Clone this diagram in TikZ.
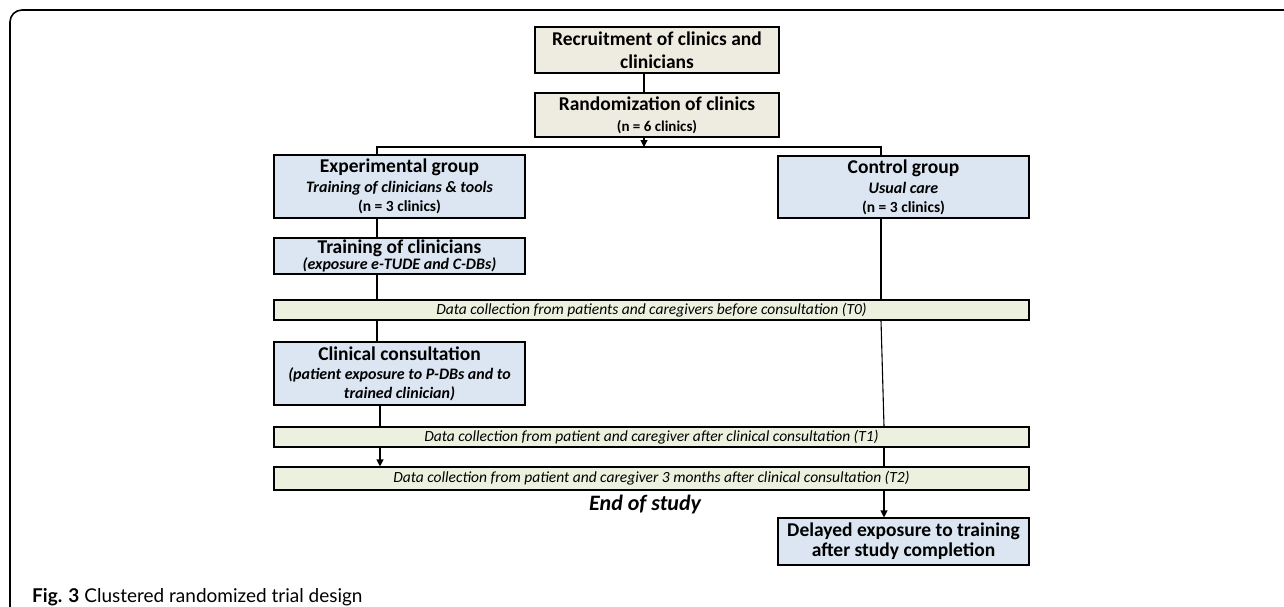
\documentclass[tikz,border=0pt]{standalone}
\usepackage{fontspec}
\setmainfont{Carlito}
\newfontfamily\capfont{Lato}
\usetikzlibrary{arrows.meta}
\definecolor{beigefill}{HTML}{EEECE1}
\definecolor{bluefill}{HTML}{DCE6F2}
\definecolor{greenfill}{HTML}{EBF1DE}
\tikzset{
  box/.style={draw=black, line width=1.1pt, inner sep=0pt, align=center, text=black},
  beigebox/.style={box, fill=beigefill},
  bluebox/.style={box, fill=bluefill},
  databar/.style={box, fill=greenfill, minimum width=755pt, minimum height=20pt,
     font=\fontsize{15.5}{18}\selectfont\itshape},
  conn/.style={line width=1.1pt},
  arr/.style={line width=1.1pt, -{Triangle[length=7pt,width=7pt]}},
  big/.style={font=\fontsize{19.5}{22}\selectfont\bfseries},
}
\newcommand{\smallbi}{\fontsize{16}{18}\selectfont\bfseries\itshape}
\newcommand{\smallb}{\fontsize{15.5}{18}\selectfont\bfseries}
\begin{document}
\begin{tikzpicture}[x=1pt,y=-1pt]
\useasboundingbox (0,0) rectangle (1284,607);
% outer frame
\draw[line width=1.6pt, rounded corners=12pt] (10,607) -- (10,10) -- (1284,10);

\node[beigebox, big, minimum width=244pt, minimum height=46pt] (rec) at (657,50)
  {Recruitment of clinics and\\[1pt]clinicians};
\node[beigebox, big, minimum width=244pt, minimum height=44pt] (rand) at (657,115)
  {Randomization of clinics\\[-1pt]{\fontsize{15}{17}\selectfont(n = 6 clinics)}};

\node[bluebox, big, minimum width=251pt, minimum height=63pt] (exp) at (399.5,186.5)
  {Experimental group\\[-2pt]{\smallbi Training of clinicians \& tools}\\[-3pt]{\smallb (n = 3 clinics)}};
\node[bluebox, big, minimum width=251pt, minimum height=62pt] (ctrl) at (903.5,187)
  {Control group\\[-2pt]{\smallbi Usual care}\\[-3pt]{\smallb (n = 3 clinics)}};

\node[bluebox, big, minimum width=251pt, minimum height=36pt] (train) at (399.5,256)
  {Training of clinicians\\[-6pt]{\smallbi (exposure e-TUDE and C-DBs)}};

\node[databar] (t0) at (651.5,310)
  {Data collection from patients and caregivers before consultation (T0)};

\node[bluebox, big, minimum width=251pt, minimum height=63pt] (clin) at (399.5,373.5)
  {Clinical consultation\\[-3pt]{\smallbi (patient exposure to P-DBs and to}\\[-3pt]{\smallbi trained clinician)}};

\node[databar] (t1) at (651.5,437)
  {Data collection from patient and caregiver after clinical consultation (T1)};
\node[databar, minimum height=23pt] (t2) at (651.5,478.5)
  {Data collection from patient and caregiver 3 months after clinical consultation (T2)};

\node[font=\fontsize{22}{26}\selectfont\bfseries\itshape] (end) at (645,505) {End of study};

\node[bluebox, big, minimum width=251pt, minimum height=47pt] (del) at (903.5,541.5)
  {Delayed exposure to training\\[-2pt]after study completion};

\node[anchor=base west, inner sep=0pt, font=\capfont\fontsize{19}{22}\selectfont] (cap) at (32,602)
  {\textbf{Fig. 3} Clustered randomized trial design};

% connectors
\coordinate (j) at (644,147);
\coordinate (el) at (377,147);
\coordinate (el2) at (380,147);
\coordinate (cl) at (881,147);
\coordinate (cl2) at (884,147);
\draw[conn] (rec.south -| j) -- (rand.north -| j);
\draw[arr] (rand.south -| j) -- (j);
\draw[conn] (exp.north -| el) -- (el) -- (cl) -- (ctrl.north -| cl);
\draw[conn] (exp.south -| el) -- (train.north -| el);
\draw[conn] (train.south -| el) -- (t0.north -| el);
\draw[conn] (t0.south -| el) -- (clin.north -| el);
\draw[conn] (clin.south -| el2) -- (t1.north -| el2);
\draw[arr] (t1.south -| el2) -- (t2.north -| el2);
\draw[conn] (ctrl.south -| cl) -- (t0.north -| cl);
\draw[conn] (t0.south -| cl) -- (t1.north -| cl2);
\draw[conn] (t1.south -| cl2) -- (t2.north -| cl2);
\draw[arr] (t2.south -| cl2) -- (del.north -| cl2);
\end{tikzpicture}
\end{document}
